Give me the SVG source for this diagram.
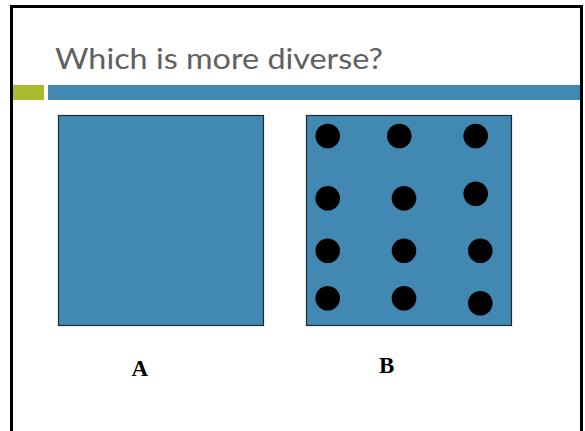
<svg xmlns="http://www.w3.org/2000/svg" width="585" height="431" viewBox="0 0 585 431">
<style>
.sq{fill:#4189b3;stroke:#1c2a33;stroke-width:1.2}
.dot{fill:#000}
.lbl{font-family:"Liberation Serif",serif;font-weight:bold;font-size:23px;fill:#000}
</style>
<rect x="0" y="0" width="585" height="431" fill="#fff"/>
<path d="M11.5 431 V6.5 H581.5 V431" fill="none" stroke="#000" stroke-width="3"/>
<text x="55" y="69" font-family="Lato, 'Open Sans', sans-serif" font-size="28" fill="#606060" textLength="328" lengthAdjust="spacingAndGlyphs">Which is more diverse?</text>
<rect x="13" y="85" width="31" height="15" fill="#a9ba2c"/>
<rect x="48" y="85" width="532" height="15" fill="#4189b3"/>
<g id="A">
<rect class="sq" x="58.5" y="115.5" width="205" height="210"/>
<text class="lbl" x="131.5" y="376">A</text>
</g>
<g id="B">
<rect class="sq" x="306.5" y="115.5" width="205" height="210"/>
<circle class="dot" cx="327.7" cy="136" r="12.3"/>
<circle class="dot" cx="399.3" cy="136" r="12.3"/>
<circle class="dot" cx="475.7" cy="136" r="12.3"/>
<circle class="dot" cx="327.7" cy="198.3" r="12.3"/>
<circle class="dot" cx="404" cy="198.3" r="12.3"/>
<circle class="dot" cx="475.7" cy="193.7" r="12.3"/>
<circle class="dot" cx="327.7" cy="250.7" r="12.3"/>
<circle class="dot" cx="404" cy="250.7" r="12.3"/>
<circle class="dot" cx="480.3" cy="250.7" r="12.3"/>
<circle class="dot" cx="327.7" cy="298.3" r="12.3"/>
<circle class="dot" cx="404" cy="298.3" r="12.3"/>
<circle class="dot" cx="480.3" cy="303.3" r="12.3"/>
<text class="lbl" x="379" y="372.5">B</text>
</g>
<g id="connectors"/>
</svg>
